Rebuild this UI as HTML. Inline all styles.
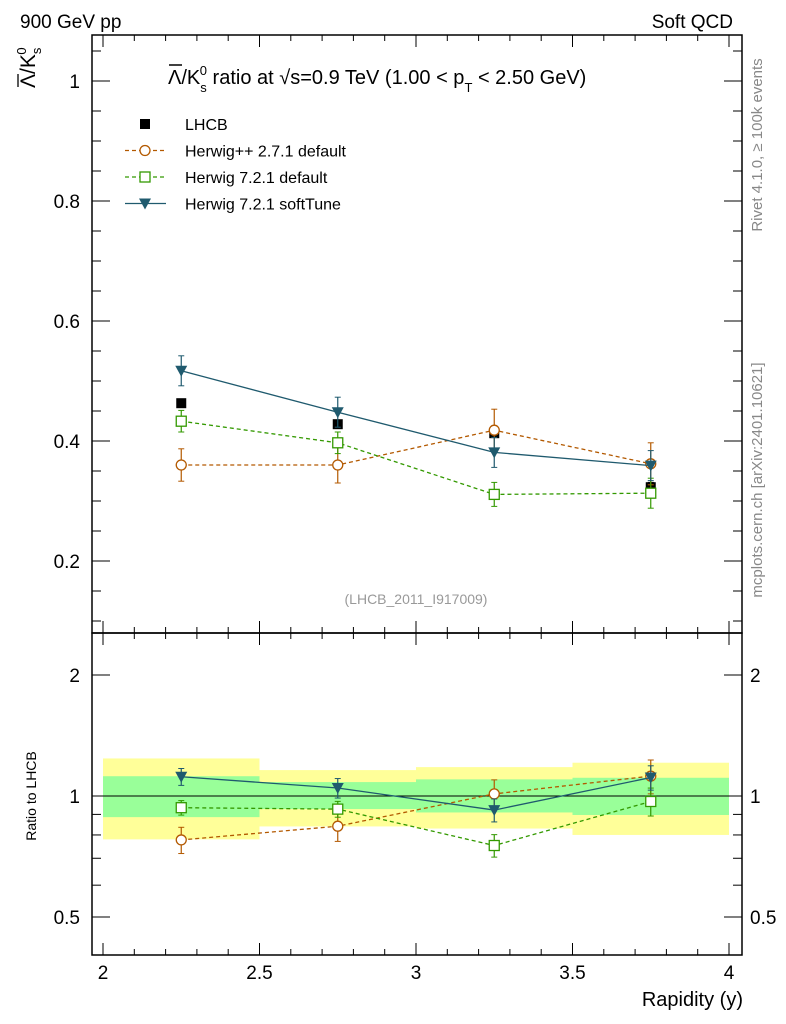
<!DOCTYPE html>
<html><head><meta charset="utf-8"><style>
body{margin:0;background:#fff}
svg{display:block;font-family:"Liberation Sans","DejaVu Sans",sans-serif}
</style></head><body>
<svg id="c" width="786" height="1024" viewBox="0 0 786 1024" xmlns="http://www.w3.org/2000/svg">
<g id="bands"></g>
<g id="axes"></g>
<g id="series"></g>
<text x="20" y="28" font-size="19">900 GeV pp</text>
<text x="733" y="28" font-size="19" text-anchor="end">Soft QCD</text>
<text x="168" y="84" font-size="20"><tspan>Λ</tspan>/K<tspan font-size="13" dy="8">s</tspan><tspan font-size="13" dx="-7" dy="-17">0</tspan><tspan dy="9"> ratio at √s=0.9 TeV (1.00 &lt; p</tspan><tspan font-size="13" dy="8">T</tspan><tspan dy="-8"> &lt; 2.50 GeV)</tspan></text>
<line x1="169" y1="65" x2="182" y2="65" stroke="#000" stroke-width="1.5"/>
<g transform="translate(35,88) rotate(-90)"><text x="0" y="0" font-size="21">Λ/K<tspan font-size="13" dy="6">s</tspan><tspan font-size="13" dx="-7" dy="-15">0</tspan></text><line x1="1" y1="-17" x2="14" y2="-17" stroke="#000" stroke-width="1.3"/></g>
<text x="743" y="1006" font-size="20" text-anchor="end">Rapidity (y)</text>
<text transform="translate(36,796) rotate(-90)" font-size="14" text-anchor="middle">Ratio to LHCB</text>
<text transform="translate(762,145) rotate(-90)" font-size="15" fill="#888" text-anchor="middle">Rivet 4.1.0, ≥ 100k events</text>
<text transform="translate(762,480) rotate(-90)" font-size="15" fill="#888" text-anchor="middle">mcplots.cern.ch [arXiv:2401.10621]</text>
<text x="416" y="604" font-size="14" fill="#999" text-anchor="middle">(LHCB_2011_I917009)</text>
<g id="legend"></g>
</svg>
<script>
const xc=[2.25,2.75,3.25,3.75];
const lhcb=[0.463,0.428,0.413,0.323];
const lhcbErr=[0.006,0.006,0.007,0.008];
const hpp=[0.360,0.360,0.418,0.362];
const hppErr=[0.027,0.030,0.035,0.035];
const h721=[0.433,0.397,0.311,0.313];
const h721Err=[0.018,0.018,0.020,0.025];
const soft=[0.517,0.448,0.381,0.359];
const softErr=[0.025,0.025,0.025,0.025];
const bandYlo=[0.78,0.84,0.83,0.80];
const bandYhi=[1.24,1.16,1.18,1.21];
const bandGlo=[0.886,0.928,0.91,0.897];
const bandGhi=[1.12,1.083,1.10,1.11];
const xTicks=[2,2.5,3,3.5,4];
const yTicks=[0.2,0.4,0.6,0.8,1];
const rTicks=[0.5,1,2];
const NS="http://www.w3.org/2000/svg";
const L=92,R=742,T=35,M=633,B=955;
const X=v=>103+(v-2)*313;
const Y=v=>81+(1-v)*600;
const RY=v=>796-121*Math.log2(v);
function mk(p,t,a){const e=document.createElementNS(NS,t);for(const k in a)e.setAttribute(k,a[k]);p.appendChild(e);return e;}
const ax=document.getElementById('axes'),bd=document.getElementById('bands'),se=document.getElementById('series'),lg=document.getElementById('legend');
xc.forEach((x,i)=>{
 let r=mk(bd,'rect',{x:X(x-0.25),y:RY(bandYhi[i]),width:313/2,height:RY(bandYlo[i])-RY(bandYhi[i]),fill:'#ffff99'});
 
 r=mk(bd,'rect',{x:X(x-0.25),y:RY(bandGhi[i]),width:313/2,height:RY(bandGlo[i])-RY(bandGhi[i]),fill:'#99ff99'});
 
});
mk(ax,'rect',{x:L,y:T,width:R-L,height:M-T,fill:'none',stroke:'#000','stroke-width':1.5});
mk(ax,'rect',{x:L,y:M,width:R-L,height:B-M,fill:'none',stroke:'#000','stroke-width':1.5});
mk(ax,'line',{x1:L,x2:R,y1:RY(1),y2:RY(1),stroke:'#000','stroke-width':1});
for(let k=0;k<=20;k++){const v=2+k*0.1,x=X(v),mj=k%5==0,l=mj?12:6;
 [[T,1],[M,-1],[M,1],[B,-1]].forEach(([y,s])=>mk(ax,'line',{x1:x,x2:x,y1:y,y2:y+s*l,stroke:'#000'}));}
xTicks.forEach(v=>{const t=mk(ax,'text',{x:X(v),y:979,'font-size':19,'text-anchor':'middle'});t.textContent=String(v);});
for(let k=2;k<=21;k++){const v=k*0.05,y=Y(v);if(y<T||y>M)continue;const mj=k%4==0,l=mj?18:9;
 mk(ax,'line',{x1:L,x2:L+l,y1:y,y2:y,stroke:'#000'});mk(ax,'line',{x1:R,x2:R-l,y1:y,y2:y,stroke:'#000'});}
yTicks.forEach(v=>{const t=mk(ax,'text',{x:80,y:Y(v)+7,'font-size':19,'text-anchor':'end'});t.textContent=String(v);});
[0.5,0.6,0.7,0.8,0.9,1,2].forEach(v=>{const y=RY(v),mj=rTicks.includes(v),l=mj?18:9;
 mk(ax,'line',{x1:L,x2:L+l,y1:y,y2:y,stroke:'#000'});mk(ax,'line',{x1:R,x2:R-l,y1:y,y2:y,stroke:'#000'});});
rTicks.forEach(v=>{[[80,'end'],[750,'start']].forEach(([x,a])=>{const t=mk(ax,'text',{x:x,y:RY(v)+7,'font-size':19,'text-anchor':a});t.textContent=String(v);});});
function marker(g,type,x,y,c){
 if(type=='sq')return mk(g,'rect',{x:x-5,y:y-5,width:10,height:10,fill:'#000'});
 if(type=='circ')return mk(g,'circle',{cx:x,cy:y,r:5,fill:'#fff',stroke:c,'stroke-width':1.3});
 if(type=='osq')return mk(g,'rect',{x:x-5,y:y-5,width:10,height:10,fill:'#fff',stroke:c,'stroke-width':1.3});
 return mk(g,'path',{d:`M${x-6},${y-5}L${x+6},${y-5}L${x},${y+6}Z`,fill:c});
}
function series(vals,errs,type,c,dash,name,ratio){
 const g=mk(se,'g',{});
 const yf=ratio?(v,i)=>RY(v/lhcb[i]):(v)=>Y(v);
 if(c!='#000')mk(g,'polyline',{points:vals.map((v,i)=>X(xc[i])+','+yf(v,i)).join(' '),fill:'none',stroke:c,'stroke-width':1.3,'stroke-dasharray':dash});
 vals.forEach((v,i)=>{const x=X(xc[i]);
  mk(g,'line',{x1:x,x2:x,y1:yf(v+errs[i],i),y2:yf(v-errs[i],i),stroke:c,'stroke-width':1.2});
  [v+errs[i],v-errs[i]].forEach(e=>mk(g,'line',{x1:x-3,x2:x+3,y1:yf(e,i),y2:yf(e,i),stroke:c}));
  const m=marker(g,type,x,yf(v,i),c);});
}
series(lhcb,lhcbErr,'sq','#000','','lhcb-data',false);
[[hpp,hppErr,'circ','#b35900','4,3','herwigpp-271'],[h721,h721Err,'osq','#339900','4,3','herwig-721-default'],[soft,softErr,'tri','#1f5a6e','','herwig-721-softtune']].forEach(s=>{series(s[0],s[1],s[2],s[3],s[4],s[5],false);series(s[0],s[1],s[2],s[3],s[4],s[5]+'-ratio',true);});
const leg=[['LHCB','sq','#000',''],['Herwig++ 2.7.1 default','circ','#b35900','4,3'],['Herwig 7.2.1 default','osq','#339900','4,3'],['Herwig 7.2.1 softTune','tri','#1f5a6e','']];
leg.forEach((e,i)=>{const y=124+i*26.5;const g=mk(lg,'g',{});
 if(i>0)mk(g,'line',{x1:125,x2:166,y1:y,y2:y,stroke:e[2],'stroke-width':1.3,'stroke-dasharray':e[3]});
 marker(g,e[1],145,y,e[2]);const t=mk(g,'text',{x:185,y:y+6,'font-size':16});t.textContent=e[0];});
</script>
</body></html>
